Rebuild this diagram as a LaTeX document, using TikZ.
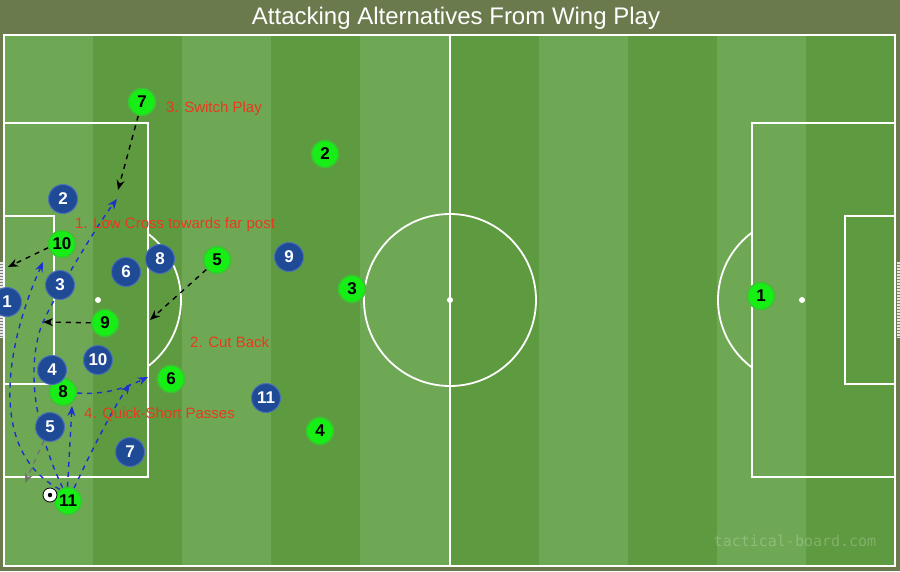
\documentclass[tikz,border=0pt]{standalone}
\usepackage{fontspec}
\setmainfont{Liberation Sans}
\newfontfamily\markfont{DejaVu Sans Mono}
\usetikzlibrary{arrows.meta}

\definecolor{frame}{RGB}{107,122,76}
\definecolor{lightgrass}{RGB}{110,168,84}
\definecolor{darkgrass}{RGB}{94,154,64}
\definecolor{shirtgreen}{RGB}{22,238,22}
\definecolor{ringgreen}{RGB}{60,195,50}
\definecolor{shirtblue}{RGB}{31,74,150}
\definecolor{ringblue}{RGB}{75,112,180}
\definecolor{notered}{RGB}{232,58,30}
\definecolor{runblue}{RGB}{28,48,210}

\pgfdeclarelayer{pitch}
\pgfdeclarelayer{runs}
\pgfsetlayers{pitch,runs,main}

\begin{document}
\begin{tikzpicture}[x=1pt, y=-1pt,
	line/.style={white, line width=1.8pt},
	gp/.style={circle, fill=shirtgreen, draw=ringgreen, line width=1.5pt, minimum size=27pt, inner sep=0pt, text=black, font=\fontsize{17}{17}\selectfont\bfseries},
	bp/.style={circle, fill=shirtblue, draw=ringblue, line width=1pt, minimum size=29pt, inner sep=0pt, text=white, font=\fontsize{17}{17}\selectfont\bfseries},
	note/.style={anchor=west, inner sep=0pt, text=notered, font=\fontsize{15}{15}\selectfont},
	cue/.style={black, line width=1.4pt, dash pattern=on 5pt off 5pt, -{Stealth[length=10pt, width=8pt]}},
	run/.style={cue, runblue}]

	\useasboundingbox (0,0) rectangle (900,571);

	\begin{pgfonlayer}{pitch}
	\fill[frame] (0,0) rectangle (900,571);
	\foreach \i in {0,...,9}{
		\ifodd\i \def\grass{darkgrass}\else\def\grass{lightgrass}\fi
		\fill[\grass] ({4+89.1*\i},35) rectangle ({4+89.1*(\i+1)},566);
	}

	\draw[line] (4,35) rectangle (895,566);
	\draw[line] (450,35) -- (450,566);
	\draw[line] (450,300) circle (86);
	\fill[white] (450,300) circle (3);

	\draw[line] (4,123) rectangle (148,477);
	\draw[line] (4,216) rectangle (54,384);
	\fill[white] (98,300) circle (3);
	\begin{scope}
		\clip (148,0) rectangle (300,571);
		\draw[line] (98,300) circle (83);
	\end{scope}

	\draw[line] (752,123) rectangle (895,477);
	\draw[line] (845,216) rectangle (895,384);
	\fill[white] (802,300) circle (3);
	\begin{scope}
		\clip (600,0) rectangle (752,571);
		\draw[line] (802,300) circle (84);
	\end{scope}

	\fill[white!80!gray] (0,262) rectangle (3,338);
	\fill[white!80!gray] (897,262) rectangle (900,338);
	\foreach \y in {264,267,...,336}{
		\draw[gray, line width=0.5pt] (0,\y) -- (3,\y);
		\draw[gray, line width=0.5pt] (897,\y) -- (900,\y);
	}
	\end{pgfonlayer}

	\node[text=white, font=\fontsize{24}{24}\selectfont] (title) at (456,18) {Attacking Alternatives From Wing Play};
	\node[text=white, opacity=0.22, font=\markfont\fontsize{15}{15}\selectfont] (mark) at (795,541) {tactical-board.com};

	\node[gp] (g7) at (142,102) {7};
	\node[gp] (g2) at (325,154) {2};
	\node[gp] (g10) at (62,244) {10};
	\node[gp] (g5) at (217,260) {5};
	\node[gp] (g3) at (352,289) {3};
	\node[gp] (g9) at (105,323) {9};
	\node[gp] (g8) at (63,392) {8};
	\node[gp] (g6) at (171,379) {6};
	\node[gp] (g4) at (320,431) {4};
	\node[gp] (g11) at (68,501) {11};
	\node[gp] (g1) at (761,296) {1};

	\node[bp] (b2) at (63,199) {2};
	\node[bp] (b8) at (160,259) {8};
	\node[bp] (b6) at (126,272) {6};
	\node[bp] (b9) at (289,257) {9};
	\node[bp] (b3) at (60,285) {3};
	\node[bp] (b1) at (7,302) {1};
	\node[bp] (b10) at (98,360) {10};
	\node[bp] (b4) at (52,370) {4};
	\node[bp] (b5) at (50,427) {5};
	\node[bp] (b7) at (130,452) {7};
	\node[bp] (b11) at (266,398) {11};

	\node[circle, fill=white, draw=black, line width=0.8pt, minimum size=14pt, inner sep=0pt] (ball) at (50,495) {};
	\fill[black] (ball.center) circle (2.2);

	\node[note] (switch) at (166,109) {3. Switch Play};
	\node[note] (cross) at (75,225) {1. Low Cross towards far post};
	\node[note] (cut) at (190,342) {2. Cut Back};
	\node[note] (quick) at (84,414) {4. Quick-Short Passes};

	\coordinate (switchend) at (118,190);
	\coordinate (backend) at (8,267);
	\coordinate (cutend) at (150,320);
	\coordinate (nineend) at (43,322);
	\coordinate (greyend) at (25,483);
	\coordinate (tenend) at (43,262);
	\coordinate (crossbend) at (40,330);
	\coordinate (crossend) at (117,199);
	\coordinate (eightend) at (72,406);
	\coordinate (sixend) at (130,384);
	\coordinate (passend) at (148,377);

	\begin{pgfonlayer}{runs}
	\draw[cue] (g7) -- (switchend);
	\draw[cue] (g10.195) -- (backend);
	\draw[cue] (g5) -- (cutend);
	\draw[cue] (g9) -- (nineend);
	\draw[cue, black!55] (b5) -- (greyend);

	\draw[run] (g11.125) .. controls (-15,450) and (8,340) .. (tenend);
	\draw[run] (g11.112) .. controls (40,440) and (25,380) .. (crossbend) .. controls (46,310) and (95,228) .. (crossend);
	\draw[run] (g11.92) -- (eightend);
	\draw[run] (g11.65) .. controls (92,450) and (112,410) .. (sixend);
	\draw[run] (g8) .. controls (105,395) and (125,388) .. (passend);
	\end{pgfonlayer}

\end{tikzpicture}
\end{document}
